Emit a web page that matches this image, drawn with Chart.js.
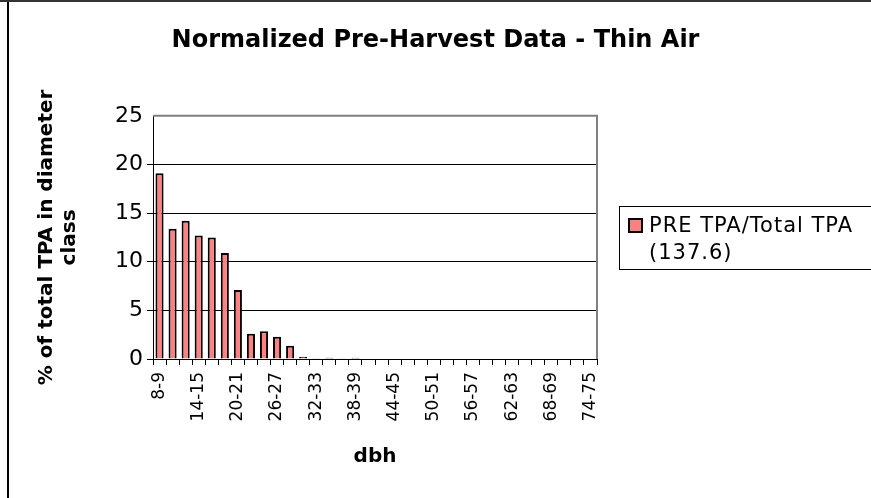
<!DOCTYPE html>
<html>
<head>
<meta charset="utf-8">
<script src="https://cdn.jsdelivr.net/npm/chart.js@4/dist/chart.umd.min.js"></script>
<style>
  html, body { margin: 0; padding: 0; background: #fff; }
  #wrap { position: relative; width: 871px; height: 498px; overflow: hidden; background: #fff; }
  #frameTop { position: absolute; left: 0; top: 0; width: 871px; height: 2px; background: #333; }
  #frameLeft { position: absolute; left: 7px; top: 2px; width: 2px; height: 496px; background: #000; }
  canvas { position: absolute; left: 0; top: 0; }
  #legend { position: absolute; left: 619px; top: 206px; width: 290px; height: 64px;
            border: 1px solid #000; font-family: "DejaVu Sans", sans-serif;
            font-size: 21px; letter-spacing: 1px; color: #000; box-sizing: border-box; }
  #legend .sw { position: absolute; left: 8px; top: 11px; width: 11px; height: 11px; border: 2px solid #000; }
  #legend .txt { position: absolute; left: 29px; top: 5px; line-height: 27px; white-space: nowrap; }
</style>
</head>
<body>
<div id="wrap">
  <canvas id="c" width="871" height="498"></canvas>
  <div id="frameTop"></div>
  <div id="frameLeft"></div>
  <div id="legend"></div>
</div>
<script>
// ---- data ----
const categories = ["8-9","10-11","12-13","14-15","16-17","18-19","20-21","22-23","24-25","26-27",
  "28-29","30-31","32-33","34-35","36-37","38-39","40-41","42-43","44-45","46-47","48-49",
  "50-51","52-53","54-55","56-57","58-59","60-61","62-63","64-65","66-67","68-69","70-71",
  "72-73","74-75"];
const preValues = [19.1, 13.4, 14.2, 12.7, 12.5, 10.9, 7.1, 2.6, 2.85, 2.3,
  1.35, 0.22, 0.07, 0.12, 0.07, 0.12, 0.06, 0.06, 0, 0, 0.05,
  0, 0, 0, 0, 0, 0, 0, 0, 0, 0, 0, 0, 0];
const yTicks = [0, 5, 10, 15, 20, 25];
const seriesLabel = ["PRE TPA/Total TPA", "(137.6)"];
const chartTitle = "Normalized Pre-Harvest Data - Thin Air";
const yTitle = ["% of total TPA in diameter", "class"];
const xTitle = "dbh";

const FONT = "'DejaVu Sans', sans-serif";

const framePlugin = {
  id: 'frame',
  afterDatasetsDraw(chart) {
    const {ctx, chartArea: a} = chart;
    ctx.save();
    ctx.strokeStyle = '#808080';
    ctx.lineWidth = 2;
    ctx.beginPath();
    ctx.moveTo(a.left, a.top);
    ctx.lineTo(a.right, a.top);
    ctx.lineTo(a.right, a.bottom);
    ctx.stroke();
    ctx.restore();
  }
};

const chart = new Chart(document.getElementById('c'), {
  type: 'bar',
  data: {
    labels: categories,
    datasets: [{
      label: seriesLabel.join(' '),
      data: preValues,
      backgroundColor: '#FF8080',
      borderColor: '#000000',
      borderWidth: 2,
      borderSkipped: 'bottom',
      barPercentage: 0.62,
      categoryPercentage: 1.0,
      yAxisID: 'y'
    }]
  },
  options: {
    responsive: false,
    animation: false,
    devicePixelRatio: 1,
    layout: { padding: 0 },
    plugins: {
      legend: { display: false },
      tooltip: { enabled: false },
      title: {
        display: true,
        text: chartTitle,
        color: '#000',
        font: { family: FONT, size: 24, weight: 'bold', lineHeight: 1.2 },
        padding: { top: 26, bottom: 61 }
      }
    },
    scales: {
      x: {
        grid: { display: true, drawOnChartArea: false, drawTicks: true, tickLength: 6, color: '#000', offset: true },
        border: { display: true, color: '#000', width: 1 },
        ticks: {
          autoSkip: false,
          minRotation: 90, maxRotation: 90,
          color: '#000',
          padding: 7,
          font: { family: FONT, size: 17 },
          callback: function(v, i) { return i % 3 === 0 ? categories[i] : ''; }
        },
        title: {
          display: true, text: xTitle, color: '#000',
          font: { family: FONT, size: 20, weight: 'bold', lineHeight: 1.2 },
          padding: { top: 0, bottom: 29 }
        },
        afterFit(scale) { scale.height = 139; }
      },
      y: {
        position: 'left',
        min: 0, max: 25,
        afterBuildTicks(scale) { scale.ticks = yTicks.map(v => ({ value: v })); },
        grid: {
          color: (c) => c.tick && c.tick.value === 25 ? 'rgba(0,0,0,0)' : '#000',
          lineWidth: 1, tickLength: 6, drawTicks: true
        },
        border: { display: true, color: '#000', width: 1 },
        ticks: { color: '#000', padding: 4, font: { family: FONT, size: 22 } },
        title: {
          display: true, text: yTitle, color: '#000',
          font: { family: FONT, size: 20, weight: 'bold', lineHeight: 1.15 },
          padding: { top: 35, bottom: 0 }
        },
        afterFit(scale) { scale.width = 153; }
      },
      yRight: {
        position: 'right',
        display: true,
        min: 0, max: 25,
        grid: { display: false, drawOnChartArea: false, drawTicks: false },
        border: { display: false },
        ticks: { display: false },
        afterFit(scale) { scale.width = 274; }
      }
    }
  },
  plugins: [framePlugin]
});

// HTML legend built from chart data
const ds = chart.data.datasets[0];
const lg = document.getElementById('legend');
const sw = document.createElement('div');
sw.className = 'sw';
sw.style.background = ds.backgroundColor;
lg.appendChild(sw);
const tx = document.createElement('div');
tx.className = 'txt';
tx.innerHTML = seriesLabel.join('<br>');
lg.appendChild(tx);
</script>
</body>
</html>
